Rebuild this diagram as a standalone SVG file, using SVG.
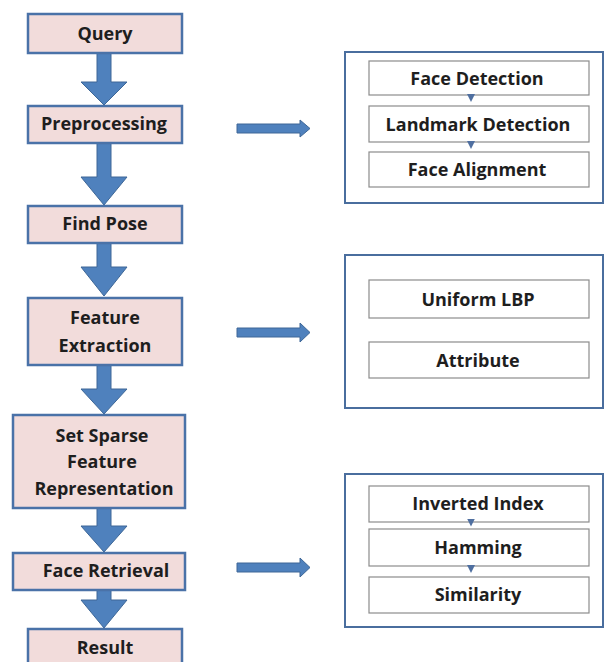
<svg xmlns="http://www.w3.org/2000/svg" width="606" height="662" viewBox="0 0 606 662">
<style>
.step{fill:#F2DCDB;stroke:#4A72A8;stroke-width:2.5}
.outer{fill:#FFFFFF;stroke:#4A6E9E;stroke-width:2}
.inner{fill:#FFFFFF;stroke:#8C8C8C;stroke-width:1.2}
.arr{fill:#4F81BD;stroke:#3E6797;stroke-width:1}
.t{font-family:"Open Sans","Liberation Sans",sans-serif;font-weight:bold;font-size:18px;fill:#1E1E1E;text-anchor:middle}
.dot{stroke:#4F6FA0;stroke-width:2.5}
</style>
<defs>
<marker id="sm" markerWidth="8" markerHeight="8" refX="4" refY="4" orient="auto" markerUnits="userSpaceOnUse">
<path d="M0,0 L8,4 L0,8 z" fill="#4F6FA0"/>
</marker>
</defs>
<rect width="606" height="662" fill="#FFFFFF"/>

<g id="connectors">
<polygon class="arr" points="97,53 111,53 111,82 127,82 104,105 81,82 97,82"/>
<polygon class="arr" points="97,143 111,143 111,177 127,177 104,205 81,177 97,177"/>
<polygon class="arr" points="97,243 111,243 111,267 127,267 104,296 81,267 97,267"/>
<polygon class="arr" points="97,365 111,365 111,389 127,389 104,414 81,389 97,389"/>
<polygon class="arr" points="97,508 111,508 111,526 127,526 104,552 81,526 97,526"/>
<polygon class="arr" points="97,590 111,590 111,600 127,600 104,628 81,600 97,600"/>
<polygon class="arr" points="237,124 300,124 300,120 310,128.5 300,137 300,133 237,133"/>
<polygon class="arr" points="237,328 300,328 300,323 310,332.5 300,342 300,337 237,337"/>
<polygon class="arr" points="237,563 300,563 300,558 310,567.5 300,577 300,572 237,572"/>
</g>

<g id="query"><rect class="step" x="28" y="14" width="154" height="39"/><text class="t" x="105" y="40">Query</text></g>
<g id="preprocessing"><rect class="step" x="28" y="106" width="154" height="37"/><text class="t" x="104" y="130">Preprocessing</text></g>
<g id="find-pose"><rect class="step" x="28" y="206" width="154" height="37"/><text class="t" x="105" y="230">Find Pose</text></g>
<g id="feature-extraction"><rect class="step" x="28" y="298" width="154" height="67"/><text class="t" x="105" y="324">Feature</text><text class="t" x="105" y="352">Extraction</text></g>
<g id="set-sparse"><rect class="step" x="13" y="415" width="172" height="93"/><text class="t" x="102" y="442">Set Sparse</text><text class="t" x="102" y="468">Feature</text><text class="t" x="104" y="495">Representation</text></g>
<g id="face-retrieval"><rect class="step" x="13" y="553" width="172" height="37"/><text class="t" x="106" y="577">Face Retrieval</text></g>
<g id="result"><rect class="step" x="28" y="629" width="154" height="45"/><text class="t" x="105" y="654">Result</text></g>

<g id="preprocessing-detail">
<rect class="outer" x="345" y="52" width="258" height="151"/>
<rect class="inner" x="369" y="61" width="220" height="34"/><text class="t" x="477" y="85">Face Detection</text>
<rect class="inner" x="369" y="106" width="220" height="36"/><text class="t" x="478" y="131">Landmark Detection</text>
<rect class="inner" x="369" y="152" width="220" height="35"/><text class="t" x="477" y="176">Face Alignment</text>
<line class="dot" x1="471" y1="95" x2="471" y2="98" marker-end="url(#sm)"/>
<line class="dot" x1="471" y1="142" x2="471" y2="145" marker-end="url(#sm)"/>
</g>

<g id="feature-detail">
<rect class="outer" x="345" y="255" width="258" height="153"/>
<rect class="inner" x="369" y="280" width="220" height="38"/><text class="t" x="478" y="306">Uniform LBP</text>
<rect class="inner" x="369" y="342" width="220" height="36"/><text class="t" x="478" y="367">Attribute</text>
</g>

<g id="retrieval-detail">
<rect class="outer" x="345" y="474" width="258" height="153"/>
<rect class="inner" x="369" y="486" width="220" height="36"/><text class="t" x="478" y="510">Inverted Index</text>
<rect class="inner" x="369" y="529" width="220" height="37"/><text class="t" x="478" y="554">Hamming</text>
<rect class="inner" x="369" y="577" width="220" height="36"/><text class="t" x="478" y="601">Similarity</text>
<line class="dot" x1="471" y1="522" x2="471" y2="522.5" marker-end="url(#sm)"/>
<line class="dot" x1="471" y1="566" x2="471" y2="569" marker-end="url(#sm)"/>
</g>
</svg>
